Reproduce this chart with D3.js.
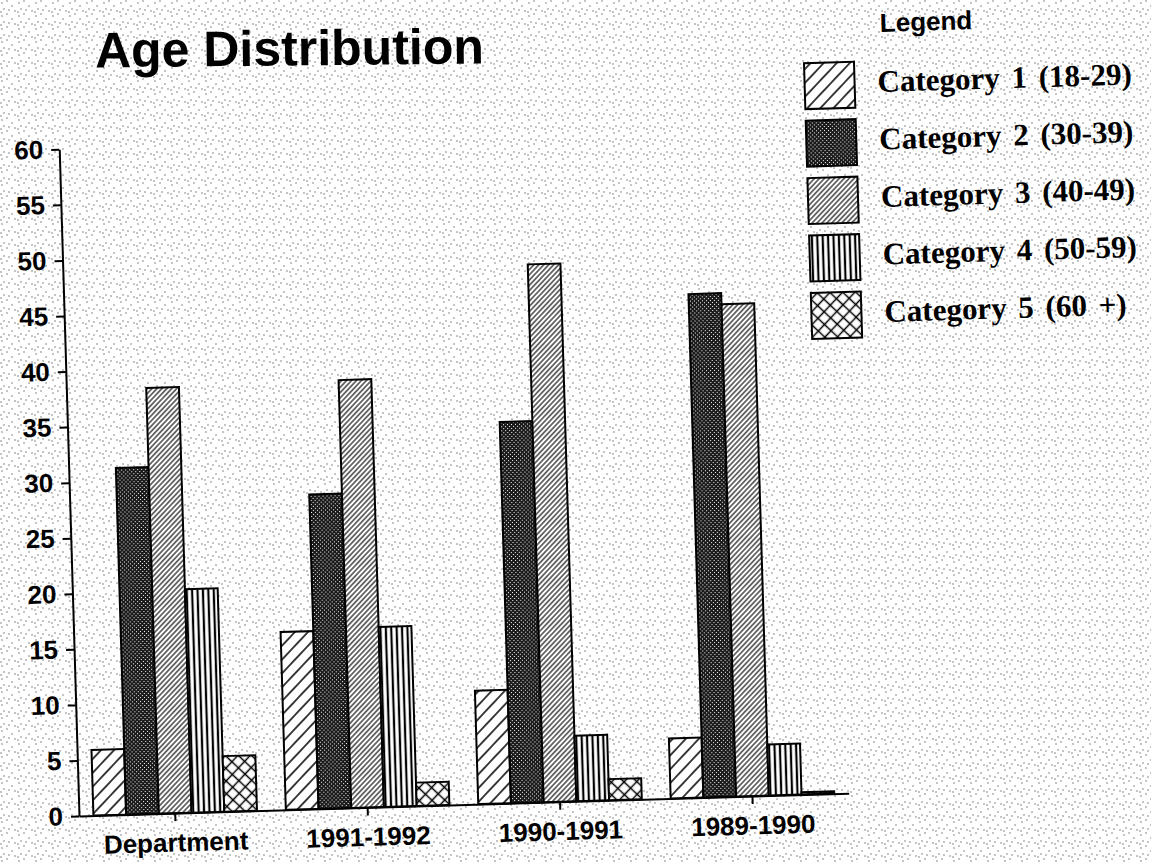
<!DOCTYPE html>
<html>
<head>
<meta charset="utf-8">
<script src="https://cdn.jsdelivr.net/npm/d3@7"></script>
<style>
body { margin: 0; background: #fff; }
.axis text { font-family: "Liberation Sans", Arial, sans-serif; font-weight: bold; fill: #000; }
.axis path, .axis line { stroke: #000; stroke-width: 2; }
.legend text { font-family: "Liberation Serif", "Times New Roman", serif; font-weight: bold; fill: #000; }
</style>
</head>
<body>
<script>
var groups = ["Department", "1991-1992", "1990-1991", "1989-1990"];
var seriesNames = ["Category 1 (18-29)", "Category 2 (30-39)", "Category 3 (40-49)", "Category 4 (50-59)", "Category 5 (60 +)"];
var cat1 = [5.9, 16.0, 10.2, 5.4];
var cat2 = [31.2, 28.3, 34.3, 45.3];
var cat3 = [38.3, 38.5, 48.4, 44.3];
var cat4 = [20.1, 16.2, 5.9, 4.6];
var cat5 = [5.0, 2.1, 1.9, 0.2];
var yTicks = [0, 5, 10, 15, 20, 25, 30, 35, 40, 45, 50, 55, 60];

var values = [cat1, cat2, cat3, cat4, cat5];

var dim = {
    width: 1151, height: 863,
    origin: { x: 79, y: 816 },   // bottom of the y axis
    plot: { width: 770, height: 667 },
    tilt: -1.7                    // the scan is a little crooked
};

var svg = d3.select("body").append("svg")
        .attr("width", dim.width)
        .attr("height", dim.height);

var defs = svg.append("defs");

// paper noise of the scan
var noise = defs.append("pattern")
        .attr("id", "paper")
        .attr("patternUnits", "userSpaceOnUse")
        .attr("width", 17).attr("height", 13);
[[2, 3], [7, 1], [12, 6], [4, 9], [15, 11], [9, 10], [1, 12]].forEach(function(p) {
    noise.append("circle").attr("cx", p[0]).attr("cy", p[1]).attr("r", 0.8).attr("fill", "#777");
});

function hatch(id, size, angle, lines, width, bg) {
    var p = defs.append("pattern")
            .attr("id", id)
            .attr("patternUnits", "userSpaceOnUse")
            .attr("width", size).attr("height", size)
            .attr("patternTransform", "rotate(" + angle + ")");
    p.append("rect").attr("width", size).attr("height", size).attr("fill", bg);
    lines.forEach(function(l) {
        if (l === "v") {
            p.append("line").attr("x1", size / 2).attr("x2", size / 2).attr("y1", 0).attr("y2", size)
                    .attr("stroke", "#000").attr("stroke-width", width);
        } else {
            p.append("line").attr("y1", size / 2).attr("y2", size / 2).attr("x1", 0).attr("x2", size)
                    .attr("stroke", "#000").attr("stroke-width", width);
        }
    });
}

hatch("pat0", 9.5, 45, ["v"], 1.5, "#fff");
hatch("pat2", 3.6, 45, ["v"], 1.1, "#fff");
hatch("pat3", 5.4, 0, ["v"], 2.2, "#fff");
hatch("pat4", 9, 45, ["v", "h"], 1.5, "#fff");

var dark = defs.append("pattern")
        .attr("id", "pat1")
        .attr("patternUnits", "userSpaceOnUse")
        .attr("width", 4).attr("height", 4);
dark.append("rect").attr("width", 4).attr("height", 4).attr("fill", "#1a1a1a");
dark.append("rect").attr("x", 0).attr("y", 0).attr("width", 1).attr("height", 1).attr("fill", "#fff");
dark.append("rect").attr("x", 2).attr("y", 2).attr("width", 1).attr("height", 1).attr("fill", "#fff");

svg.append("rect")
        .attr("width", dim.width).attr("height", dim.height)
        .attr("fill", "url(#paper)");

var page = svg.append("g")
        .attr("transform", "rotate(" + dim.tilt + "," + dim.origin.x + "," + dim.origin.y + ")");

// the title sits a bit straighter than the rest of the page
page.append("text")
        .attr("x", 312).attr("y", 72)
        .attr("text-anchor", "middle")
        .attr("transform", "rotate(1.1,312,60)")
        .style("font-family", "'Liberation Sans', Arial, sans-serif")
        .style("font-weight", "bold")
        .style("font-size", "50px")
        .text("Age Distribution");

var plot = page.append("g")
        .attr("transform", "translate(" + dim.origin.x + "," + (dim.origin.y - dim.plot.height) + ")");

var x0 = d3.scaleBand()
        .domain(groups)
        .range([0, dim.plot.width])
        .paddingInner(0.15)
        .paddingOuter(0.075);

var x1 = d3.scaleBand()
        .domain(d3.range(values.length))
        .range([0, x0.bandwidth()]);

var y = d3.scaleLinear()
        .domain([0, 60])
        .range([dim.plot.height, 0]);

var groupSel = plot.selectAll("g.group").data(groups)
        .enter().append("g")
        .attr("class", "group")
        .attr("transform", function(d) { return "translate(" + x0(d) + ",0)"; });

groupSel.selectAll("rect")
        .data(function(d, gi) { return values.map(function(v, si) { return { s: si, v: v[gi] }; }); })
        .enter().append("rect")
        .attr("x", function(d) { return x1(d.s); })
        .attr("y", function(d) { return y(d.v); })
        .attr("width", x1.bandwidth())
        .attr("height", function(d) { return y(0) - y(d.v); })
        .attr("fill", function(d) { return "url(#pat" + d.s + ")"; })
        .attr("stroke", "#000")
        .attr("stroke-width", 2);

plot.append("g")
        .attr("class", "x axis")
        .attr("transform", "translate(0," + dim.plot.height + ")")
        .call(d3.axisBottom(x0).tickSize(8).tickPadding(12).tickSizeOuter(0))
        .selectAll("text")
        .style("font-size", "26px");

plot.append("g")
        .attr("class", "y axis")
        .call(d3.axisLeft(y).tickValues(yTicks).tickSize(8).tickPadding(8).tickSizeOuter(0))
        .selectAll("text")
        .style("font-size", "26px");

var legend = page.append("g")
        .attr("class", "legend");

legend.append("text")
        .attr("x", 903).attr("y", 56)
        .style("font-family", "'Liberation Sans', Arial, sans-serif")
        .style("font-size", "26px")
        .text("Legend");

var item = legend.selectAll("g.item").data(seriesNames)
        .enter().append("g")
        .attr("class", "item")
        .attr("transform", function(d, i) { return "translate(826," + (85 + i * 57.5) + ")"; });

item.append("rect")
        .attr("width", 50).attr("height", 46)
        .attr("fill", function(d, i) { return "url(#pat" + i + ")"; })
        .attr("stroke", "#000")
        .attr("stroke-width", 2);

item.append("text")
        .attr("x", 73).attr("y", 31)
        .style("font-size", "31px")
        .style("word-spacing", "4px")
        .text(function(d) { return d; });
</script>
</body>
</html>
